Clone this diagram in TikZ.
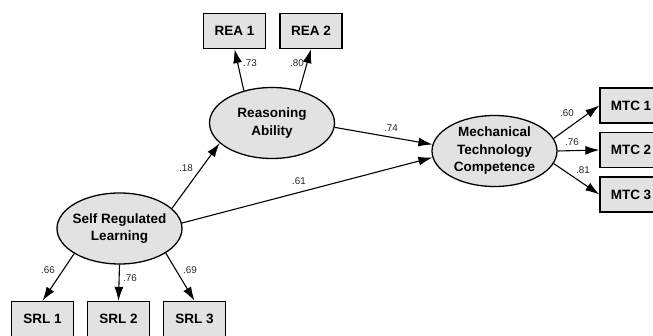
\documentclass[tikz,border=0pt]{standalone}
\usepackage{fontspec}
\setmainfont{Liberation Sans}
\usepackage{tikz}
\usetikzlibrary{shapes.geometric,arrows.meta}
\definecolor{boxgray}{RGB}{226,226,226}
\tikzstyle{obsbox} = [draw=black, fill=boxgray, line width=1.3pt,
    rectangle, minimum width=62pt, minimum height=35pt, inner sep=0pt,
    font=\fontsize{13.5}{16}\selectfont\bfseries]
\tikzstyle{latent} = [draw=black, fill=boxgray, line width=1.3pt,
    ellipse, minimum width=125pt, minimum height=71pt, inner xsep=-6pt, inner ysep=0pt,
    align=center, font=\fontsize{13.5}{17.5}\selectfont\bfseries]
\tikzstyle{path} = [-{Latex[length=14pt,width=9pt]}, line width=1.1pt]
\tikzstyle{coef} = [inner sep=0pt, font=\fontsize{9.8}{11}\selectfont, text=black!85]

\begin{document}
\begin{tikzpicture}[x=1pt,y=-1pt]
\clip (0,0) rectangle (653,336);
% latent variables
\node [latent] (ra)  at (272,123)   {Reasoning\\Ability};
\node [latent] (srl) at (119.5,228.5) {Self Regulated\\Learning};
\node [latent] (mtc) at (494.5,151) {Mechanical\\Technology\\Competence};
% indicators
\node [obsbox] (rea1) at (234.5,31) {REA 1};
\node [obsbox] (rea2) at (311,31)   {REA 2};
\node [obsbox] (srl1) at (42.5,319)  {SRL 1};
\node [obsbox] (srl2) at (118.5,319) {SRL 2};
\node [obsbox] (srl3) at (194.5,319) {SRL 3};
\node [obsbox] (mtc1) at (631,105.5) {MTC 1};
\node [obsbox] (mtc2) at (631,150)   {MTC 2};
\node [obsbox] (mtc3) at (631,194.5) {MTC 3};
% structural paths
\draw [path] (srl.21) -- (ra.201);
\draw [path] (srl.5) -- (mtc.186);
\draw [path] (ra.356) -- (mtc.174);
% loadings
\draw [path] (ra.131) -- (rea1.south);
\draw [path] (ra.50) -- (rea2.south);
\draw [path] (srl.209) -- (srl1.north);
\draw [path] (srl.south) -- (srl2.north);
\draw [path] (srl.332) -- (srl3.north);
\draw [path] (mtc.12) -- (mtc1.west);
\draw [path] (mtc.east) -- (mtc2.west);
\draw [path] (mtc.348) -- (mtc3.west);
% coefficients
\node [coef] (c73) at (250,63)  {.73};
\node [coef] (c80) at (297,63)  {.80};
\node [coef] (c18) at (186,168) {.18};
\node [coef] (c74) at (391,128) {.74};
\node [coef] (c61) at (299,181) {.61};
\node [coef] (c60) at (567,113) {.60};
\node [coef] (c76a) at (572,142) {.76};
\node [coef] (c81) at (583,170) {.81};
\node [coef] (c66) at (48,270)  {.66};
\node [coef] (c76b) at (130,278) {.76};
\node [coef] (c69) at (190,270) {.69};
\end{tikzpicture}
\end{document}
